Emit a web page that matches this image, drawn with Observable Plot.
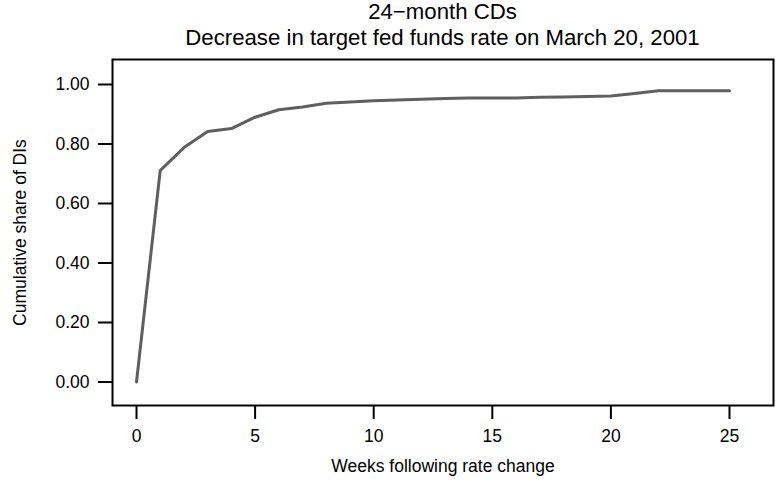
<!DOCTYPE html>
<html>
<head>
<meta charset="utf-8">
<script src="https://cdn.jsdelivr.net/npm/d3@7"></script>
<script src="https://cdn.jsdelivr.net/npm/@observablehq/plot@0.6"></script>
<style>
  html, body { margin: 0; padding: 0; background: #fff; }
  #chart { width: 781px; height: 485px; position: relative; font-family: "Liberation Sans", Arial, sans-serif; color: #000; }
  #titles { position: absolute; left: 112px; width: 661px; top: -1px; height: 52px; text-align: center; font-size: 22.2px; line-height: 26px; }
  #plot { position: absolute; left: 0; top: 52px; }
</style>
</head>
<body>
<div id="chart">
  <div id="titles">
    <div>24−month CDs</div>
    <div>Decrease in target fed funds rate on March 20, 2001</div>
  </div>
  <div id="plot"></div>
</div>
<script>
// Cumulative share of depository institutions that had adjusted 24-month CD rates,
// by week after the March 20, 2001 fed funds cut
const weeks = [0, 1, 2, 3, 4, 5, 6, 7, 8, 9, 10, 11, 12, 13, 14, 15, 16, 17, 18, 19, 20, 21, 22, 23, 24, 25];
const share = [0.000, 0.711, 0.788, 0.842, 0.852, 0.890, 0.915, 0.924, 0.937, 0.941, 0.945, 0.948, 0.950, 0.953, 0.955, 0.955, 0.955, 0.957, 0.958, 0.960, 0.961, 0.970, 0.979, 0.979, 0.979, 0.979];

const xTicks = [0, 5, 10, 15, 20, 25];
const yTicks = [0, 0.2, 0.4, 0.6, 0.8, 1.0];
const xLabel = "Weeks following rate change";
const yLabel = "Cumulative share of DIs";

const rows = weeks.map((w, i) => ({week: w, share: share[i]}));
const font = "Liberation Sans, Arial, sans-serif";

const chart = Plot.plot({
  width: 781,
  height: 433,
  marginTop: 7,
  marginBottom: 80,
  marginLeft: 112,
  marginRight: 8,
  style: {fontFamily: font, fontSize: "17.5px", background: "#fff", color: "#000"},
  x: {domain: [-1.012, 26.855]},
  y: {domain: [-0.079, 1.084]},
  marks: [
    Plot.axisX({ticks: xTicks, tickSize: 14, tickPadding: 10, tickFormat: d => String(d), label: null, strokeWidth: 2, fontSize: 17.5}),
    Plot.axisY({ticks: yTicks, tickSize: 14, tickPadding: 9, tickFormat: d3.format(".2f"), label: null, strokeWidth: 2, fontSize: 17.5}),
    Plot.frame({stroke: "#000", strokeWidth: 2}),
    Plot.lineY(rows, {x: "week", y: "share", stroke: "#5f5f5f", strokeWidth: 3, strokeLinejoin: "round", strokeLinecap: "round"}),
    Plot.text([xLabel], {frameAnchor: "bottom", lineAnchor: "middle", dy: 61, fontSize: 17.5, fill: "#000"}),
    Plot.text([yLabel], {frameAnchor: "left", textAnchor: "middle", lineAnchor: "middle", dx: -92, rotate: -90, fontSize: 17.5, fill: "#000"})
  ]
});
document.getElementById("plot").appendChild(chart);
</script>
</body>
</html>
